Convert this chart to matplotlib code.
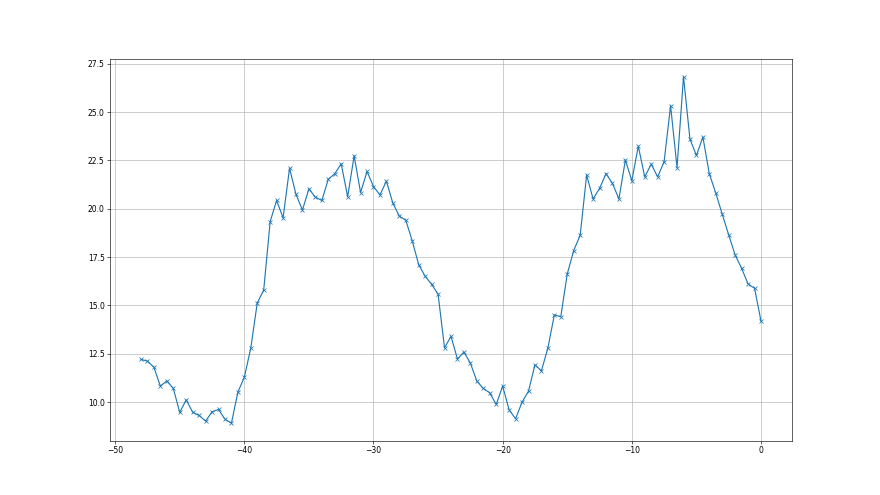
import numpy as np
import matplotlib
matplotlib.use("Agg")
import matplotlib.pyplot as plt

# x positions: every half step from -48 to 0
x_values = np.arange(-48, 0.5, 0.5)

y_values = [
    12.21, 12.12, 11.80, 10.83, 11.10, 10.71, 9.47, 10.12, 9.48, 9.31,
    9.02, 9.50, 9.62, 9.12, 8.91, 10.52, 11.29, 12.80, 15.13, 15.80,
    19.34, 20.43, 19.53, 22.10, 20.74, 19.94, 21.03, 20.60, 20.43, 21.53,
    21.81, 22.33, 20.62, 22.74, 20.84, 21.93, 21.15, 20.72, 21.43, 20.29,
    19.62, 19.41, 18.34, 17.11, 16.51, 16.09, 15.58, 12.81, 13.40, 12.23,
    12.59, 12.02, 11.09, 10.71, 10.48, 9.88, 10.83, 9.60, 9.14, 10.00,
    10.57, 11.93, 11.62, 12.80, 14.51, 14.42, 16.63, 17.84, 18.63, 21.74,
    20.51, 21.05, 21.82, 21.31, 20.51, 22.52, 21.45, 23.24, 21.65, 22.31,
    21.65, 22.44, 25.33, 22.13, 26.83, 23.60, 22.76, 23.71, 21.81, 20.81,
    19.72, 18.65, 17.61, 16.92, 16.11, 15.89, 14.19,
]

fig = plt.figure(figsize=(16, 9), dpi=55)
ax = fig.add_subplot(111)
ax.plot(x_values, y_values, marker='x')
ax.grid(True)
fig.savefig("out.png", dpi=55)
